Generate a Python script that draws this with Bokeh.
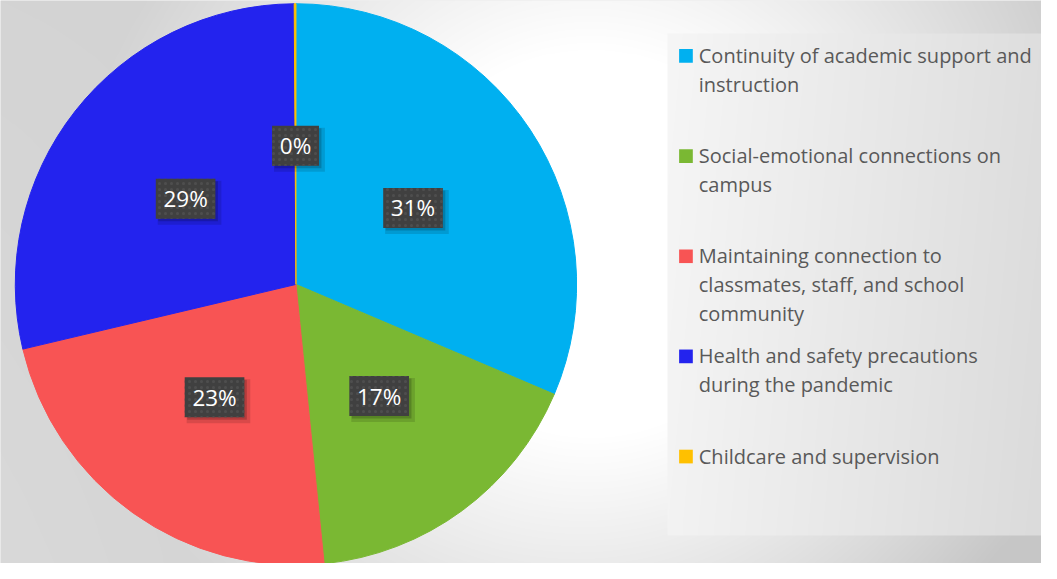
import numpy as np
import textwrap
from bokeh.plotting import figure
from bokeh.models import ColumnDataSource, Range1d
from bokeh.core.properties import value
from bokeh.embed import file_html
from bokeh.resources import INLINE

# ---------------- data ----------------
categories = [
    "Continuity of academic support and instruction",
    "Social-emotional connections on campus",
    "Maintaining connection to classmates, staff, and school community",
    "Health and safety precautions during the pandemic",
    "Childcare and supervision",
]
shares = [31.4, 17.0, 22.9, 28.6, 0.1]
colors = ["#00B0F0", "#7AB833", "#F85454", "#2323EE", "#FFC000"]

# ---------------- layout helpers ----------------
W, H = 1041, 563          # figure pixels
RW, RH = 1057, 579        # design coordinate space
S = 0.978                 # screen-size scale


def X(px):
    return px


def Y(py):
    return RH - py


p = figure(width=W, height=H, x_range=Range1d(0, RW), y_range=Range1d(0, RH),
           output_backend="svg", toolbar_location=None, min_border=0)
p.axis.visible = False
p.grid.visible = False
p.outline_line_color = None
p.background_fill_color = "#e0e0e0"
p.border_fill_color = "#e0e0e0"

# ---------------- background gradient (style only) ----------------
xs = np.arange(RW) + 0.5
ys = np.arange(RH) + 0.5
XX, YY = np.meshgrid(xs, ys)
rx = XX
ry = RH - YY
fx = np.clip(rx / 1057.0, 0, 1)
fy = np.clip(ry / 579.0, 0, 1)
top = 212 + (208 - 212) * fx
bot = 217 + (198 - 217) * fx
base = top + (bot - top) * fy
d = np.hypot(rx - 600, ry - 250)
w = np.clip(1 - (d - 200) / 320.0, 0, 1)
g = base + (255 - base) * w
panel = (rx >= 677) & (ry >= 34) & (ry <= 550)
pg = 246 - 24 * (rx - 677) / 380.0 - 3 * (ry - 34) / 516.0
g = np.where(panel, pg, g)
g = np.clip(g, 0, 255).astype(np.uint32)
img = (np.uint32(255) << 24) | (g << 16) | (g << 8) | g
p.image_rgba(image=[img.astype(np.uint32)], x=0, y=0, dw=RW, dh=RH)

# ---------------- pie ----------------
fr = np.array(shares) / sum(shares)
cum = np.concatenate([[0], np.cumsum(fr)])
start = np.pi / 2 - 2 * np.pi * cum[:-1]
end = np.pi / 2 - 2 * np.pi * cum[1:]
cx, cy, R = X(300), Y(292), 285
src = ColumnDataSource(dict(start=start, end=end, color=colors))
p.wedge(x=cx, y=cy, radius=R, start_angle="start", end_angle="end",
        direction="clock", fill_color="color", line_color="color",
        line_width=1, source=src)

# ---------------- data labels ----------------
mid = np.pi / 2 - 2 * np.pi * (cum[:-1] + fr / 2)
lr = 0.5 * R
lx = cx + lr * np.cos(mid)
ly = cy + lr * np.sin(mid)
labels = [f"{round(v)}%" for v in shares]
bw = [S * (16 + 13 * (len(t) - 1) + 19) for t in labels]
lsrc = ColumnDataSource(dict(x=lx, y=ly, xs1=lx + 4, ys1=ly - 4, xs2=lx + 2.5, ys2=ly - 2.5,
                             w=bw, w2=[b + 4 for b in bw], t=labels))
p.rect(x="xs1", y="ys1", width="w2", height=44, width_units="screen", height_units="screen",
       fill_color="black", fill_alpha=0.12, line_color=None, source=lsrc)
p.rect(x="xs2", y="ys2", width="w", height=40, width_units="screen", height_units="screen",
       fill_color="black", fill_alpha=0.18, line_color=None, source=lsrc)
p.rect(x="x", y="y", width="w", height=40, width_units="screen", height_units="screen",
       fill_color="#404040", line_color=None, hatch_pattern="dot", hatch_color="#4e4e4e",
       hatch_scale=6, hatch_weight=1.5, source=lsrc)
p.text(x="x", y="y", text="t", text_font=value("Open Sans"), text_font_size="22.5px",
       text_color="white", text_align="center", text_baseline="middle", source=lsrc)

# ---------------- legend ----------------
tx, ty, tt = [], [], []
sx, sy = [], []
for i, cat in enumerate(categories):
    wrapped = textwrap.wrap(cat, 34, break_on_hyphens=False)
    y0 = 56.5 + i * 103
    sx.append(X(696))
    sy.append(Y(y0 + 0.5))
    for j, ln in enumerate(wrapped):
        tx.append(X(709))
        ty.append(Y(y0 + j * 29.7))
        tt.append(ln)
p.rect(x=sx, y=sy, width=13.7, height=13.7, width_units="screen", height_units="screen",
       fill_color=colors, line_color=None)
p.text(x=tx, y=ty, text=tt, text_font=value("Open Sans"), text_font_size="20px",
       text_color="#595959", text_align="left", text_baseline="middle")

open("out.html", "w").write(file_html(p, INLINE))
